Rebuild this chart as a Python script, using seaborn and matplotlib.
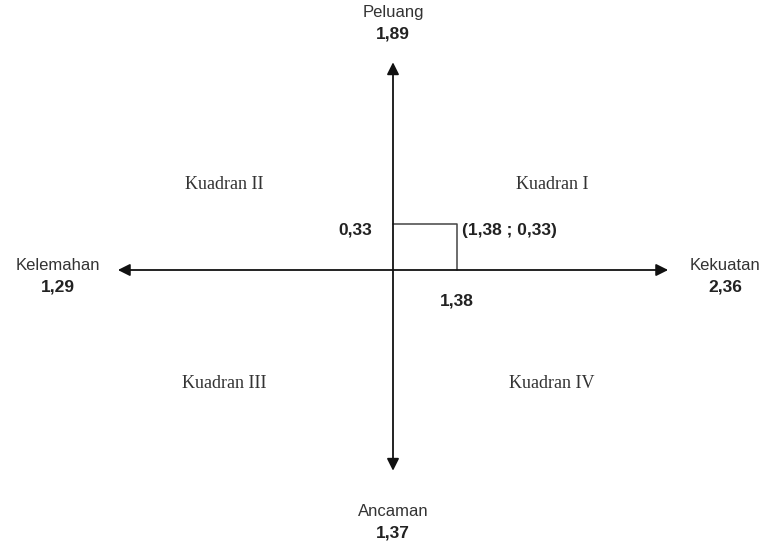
import seaborn as sns
import matplotlib.pyplot as plt
import pandas as pd

# Nilai faktor internal / eksternal
kekuatan = 2.36
kelemahan = 1.29
peluang = 1.89
ancaman = 1.37

# Titik koordinat hasil (selisih)
titik_x = 1.38
titik_y = 0.33

kuadran = ['Kuadran I', 'Kuadran II', 'Kuadran III', 'Kuadran IV']


def fmt(v):
    return f'{v:.2f}'.replace('.', ',')


sns.set_style('white')
plt.rcParams['font.family'] = ['Liberation Sans', 'DejaVu Sans']

fig = plt.figure(figsize=(7.77, 5.43), dpi=100)
ax = fig.add_axes([0, 0, 1, 1])
# skala diagram (bukan skala nilai): 46.4 px per unit x, 139.4 px per unit y
ax.set_xlim(-393 / 46.4, 384 / 46.4)
ax.set_ylim(-273 / 139.4, 270 / 139.4)
ax.axis('off')

# panjang panah sumbu
ax_kiri, ax_kanan = -5.93, 5.93
ax_atas, ax_bawah = 1.49, -1.44

arrow = dict(arrowstyle='<|-|>', color='#111111', lw=1.3, mutation_scale=18,
             shrinkA=0, shrinkB=0)
ax.annotate('', xy=(ax_kanan, 0), xytext=(ax_kiri, 0), arrowprops=arrow)
ax.annotate('', xy=(0, ax_atas), xytext=(0, ax_bawah), arrowprops=arrow)

# garis bantu titik koordinat
box = pd.DataFrame({'x': [0, titik_x, titik_x], 'y': [titik_y, titik_y, 0]})
sns.lineplot(data=box, x='x', y='y', sort=False, estimator=None,
             color='#444444', lw=1.1, ax=ax)

lab = dict(fontsize=12, color='#333333', ha='center', va='center')
val = dict(fontsize=12.5, color='#222222', ha='center', va='center', fontweight='bold')

ax.text(0, 1.85, 'Peluang', **lab)
ax.text(0, 1.695, fmt(peluang), **val)
ax.text(0, -1.73, 'Ancaman', **lab)
ax.text(0, -1.885, fmt(ancaman), **val)
ax.text(-7.22, 0.035, 'Kelemahan', **lab)
ax.text(-7.22, -0.125, fmt(kelemahan), **val)
ax.text(7.16, 0.035, 'Kekuatan', **lab)
ax.text(7.16, -0.125, fmt(kekuatan), **val)

ax.text(-0.82, titik_y - 0.04, fmt(titik_y), **val)
ax.text(titik_x, -0.22, fmt(titik_x), **val)
ax.text(titik_x + 0.1, titik_y - 0.05,
        f'({fmt(titik_x)} ; {fmt(titik_y)})', fontsize=12.5, color='#222222',
        ha='left', va='center', fontweight='bold')

kq = dict(fontsize=13, color='#333333', ha='center', va='center',
          family='Liberation Serif')
ax.text(3.43, 0.61, kuadran[0], **kq)
ax.text(-3.63, 0.61, kuadran[1], **kq)
ax.text(-3.63, -0.815, kuadran[2], **kq)
ax.text(3.43, -0.815, kuadran[3], **kq)

fig.savefig('out.png', dpi=100)
